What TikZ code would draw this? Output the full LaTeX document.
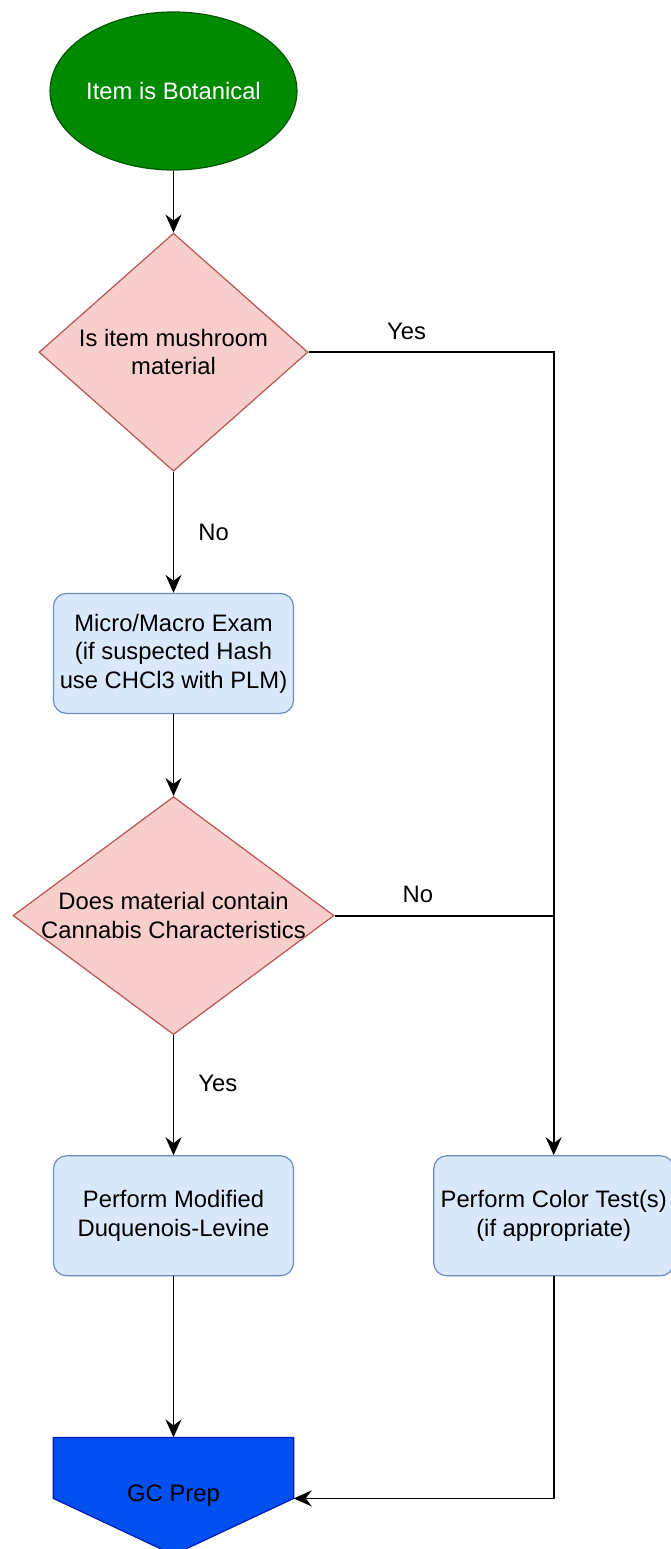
\documentclass[tikz,border=0pt]{standalone}
\usepackage{fontspec}
\setmainfont{Liberation Sans}
\usetikzlibrary{calc, arrows.meta, positioning, shapes.geometric, backgrounds}

\definecolor{startfill}{HTML}{008A00}
\definecolor{startdraw}{HTML}{005700}
\definecolor{decisionfill}{HTML}{F8CECC}
\definecolor{decisiondraw}{HTML}{B85450}
\definecolor{stepfill}{HTML}{DAE8FC}
\definecolor{stepdraw}{HTML}{6C8EBF}
\definecolor{prepfill}{HTML}{0050EF}
\definecolor{prepdraw}{HTML}{001DBC}

\newcommand{\chartfont}{\fontsize{23.8}{28.5}\selectfont}

\begin{document}
\begin{tikzpicture} [node distance=2.5cm,
		% define styles
		startnodestyle/.style={
			% The shape:
			ellipse,
			% The size:
			minimum width=242pt, minimum height=158pt, inner sep=0pt,
			% The border:
			line width=1.2pt,
			draw=startdraw,
			% The filling:
			fill=startfill,
			% Font
			text=white,
			font=\chartfont
		},
		decisionnodestyle/.style={
			% The shape:
			diamond,
			% The size:
			minimum width=269pt, minimum height=238pt, inner sep=0pt,
			% The border:
			line width=1.2pt,
			draw=decisiondraw,
			% The filling:
			fill=decisionfill
		},
		decisiontext/.style={
			align=center,
			font=\chartfont
		},
		stepnodestyle/.style={
			% The shape:
			rectangle,
			% The size:
			minimum width=240pt, minimum height=120pt,
			% The border:
			line width=1.2pt,
			draw=stepdraw,
			% The filling:
			fill=stepfill,
			% Corners
			rounded corners=13pt,
			% Font
			align=center,
			font=\chartfont
		},
		prepnodestyle/.style={
			% The shape (drawn behind):
			rectangle,
			% The size:
			minimum width=240pt, minimum height=117pt,
			% Font
			font=\chartfont
		},
		prepshapestyle/.style={
			line width=1.2pt,
			draw=prepdraw,
			fill=prepfill
		},
		arrow/.style={
			-{Stealth[length=18pt, width=16pt, inset=6pt]},
			% Thickness
			line width=1.8pt,
			% Color
			black
		},
		line/.style={
			-,
			line width=1.8pt,
			black
		},
		answer/.style={
			inner sep=4pt,
			font=\chartfont
		}]
		% end of style definition

		\useasboundingbox (0,0) rectangle (670pt,-1549pt);

		% draw nodes
		\node (iStart) [startnodestyle] at (173.5pt,-91pt) {Item is Botanical};
		\node (iMushroom) [decisionnodestyle, below = 62pt of iStart,
			label={[decisiontext]center:Is item mushroom\\material}] {};
		\node (iExam) [stepnodestyle, below = 121pt of iMushroom] {Micro/Macro Exam\\(if suspected Hash\\use CHCl3 with PLM)};
		\node (iCannabis) [decisionnodestyle, minimum width=321pt, below = 82pt of iExam,
			label={[decisiontext]center:Does material contain\\Cannabis Characteristics}] {};
		\node (iLevine) [stepnodestyle, below = 120pt of iCannabis] {Perform Modified\\Duquenois-Levine};
		\node (iColor) [stepnodestyle, right = 139pt of iLevine] {Perform Color Test(s)\\(if appropriate)};
		\node (iGCPrep) [prepnodestyle, below = 161pt of iLevine] {GC Prep};
		\coordinate (iGCCorner) at ($(iGCPrep.north east)+(0,-61pt)$);

		\begin{pgfonlayer}{background}
			\draw [prepshapestyle] (iGCPrep.north west) -- (iGCPrep.north east) -- (iGCCorner)
				-- (iGCPrep.south) -- ($(iGCPrep.north west)+(0,-61pt)$) -- cycle;
		\end{pgfonlayer}

		% connect nodes
		\draw [arrow] (iStart) -- (iMushroom);
		\draw [arrow] (iMushroom.east) -| node[answer, pos=0.2, above=8pt] {Yes} (iColor.north);
		\draw [arrow] (iMushroom) -- node[answer, right=20pt] {No} (iExam);
		\draw [arrow] (iExam) -- (iCannabis);
		\draw [line] (iCannabis.east) -- node[answer, pos=0.38, above=8pt] {No} (iCannabis.east -| iColor.north);
		\draw [arrow] (iCannabis) -- node[answer, pos=0.4, right=20pt] {Yes} (iLevine);
		\draw [arrow] (iLevine) -- (iGCPrep);
		\draw [arrow] (iColor.south) |- (iGCCorner);
	\end{tikzpicture}
\end{document}
